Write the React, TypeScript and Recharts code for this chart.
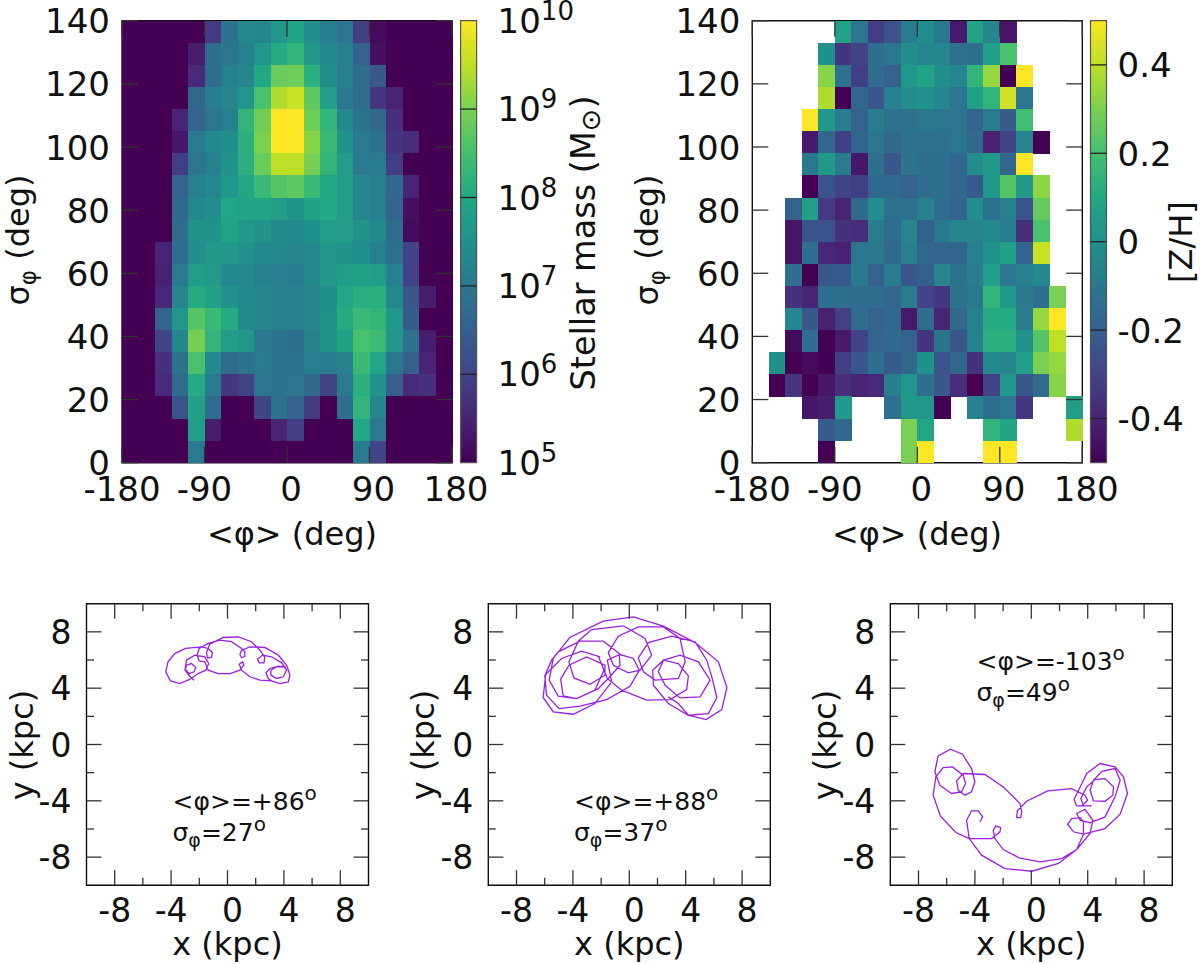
import React from "react";
import { ScatterChart, Scatter, LineChart, Line, BarChart, Bar, XAxis, YAxis, ReferenceArea, ReferenceLine } from "recharts";

// Position of each cell on the colour bar (0 = bottom, 1 = top), top row first.
const massLevels: number[][] = [
  [0,0,0,0,0,.17,.33,.42,.41,.48,.53,.44,.37,.34,.18,.03,0,0,0,0],
  [0,0,0,0,.08,.30,.34,.38,.47,.56,.60,.48,.42,.38,.26,.04,0,0,0,0],
  [0,0,0,0,.12,.30,.38,.40,.55,.72,.78,.58,.44,.38,.30,.22,0,0,0,0],
  [0,0,0,0,.28,.37,.40,.47,.66,.88,.92,.70,.50,.35,.30,.16,.10,0,0,0],
  [0,0,0,.10,.27,.34,.38,.60,.78,1,1,.78,.60,.42,.33,.28,.13,0,0,0],
  [0,0,0,.06,.36,.42,.43,.58,.80,1,1,.82,.62,.46,.36,.32,.15,.13,0,0],
  [0,0,0,.18,.34,.38,.46,.58,.72,.90,.90,.74,.60,.50,.36,.36,.18,0,0,0],
  [0,0,0,.27,.38,.42,.47,.54,.62,.68,.70,.62,.54,.50,.40,.38,.28,.10,0,0],
  [0,0,0,.29,.42,.44,.54,.53,.53,.50,.46,.52,.55,.50,.40,.38,.27,.04,0,0],
  [0,0,0,.30,.46,.46,.53,.48,.46,.42,.42,.45,.50,.50,.46,.42,.30,.03,0,0],
  [0,0,.10,.30,.44,.48,.48,.46,.42,.42,.40,.42,.48,.46,.44,.38,.32,.20,0,0],
  [0,0,.09,.36,.50,.49,.42,.42,.38,.38,.36,.42,.48,.50,.52,.50,.38,.19,0,0],
  [0,0,.11,.40,.56,.52,.46,.42,.40,.39,.38,.40,.44,.54,.58,.58,.42,.22,.08,0],
  [0,0,.27,.47,.68,.62,.56,.42,.40,.38,.38,.40,.46,.56,.62,.60,.48,.24,0,0],
  [0,0,.20,.40,.74,.60,.50,.47,.35,.33,.31,.38,.46,.52,.66,.63,.48,.32,.08,0],
  [0,0,.14,.33,.66,.42,.30,.33,.36,.33,.33,.38,.36,.38,.62,.54,.34,.25,.10,0],
  [0,0,.12,.30,.56,.36,.16,.19,.34,.33,.34,.29,.20,.36,.58,.46,.25,.12,.14,0],
  [0,0,0,.21,.52,.30,0,0,.20,.32,.26,.17,0,.31,.60,.40,0,0,0,0],
  [0,0,0,0,.50,.08,0,0,0,.10,.18,0,0,0,.55,.36,0,0,0,0],
  [0,0,0,0,.36,0,0,0,0,0,0,0,0,0,.36,.20,0,0,0,0],
];

const _ = null;
const metalLevels: (number | null)[][] = [
  [_,_,_,_,_,.55,.36,.18,.22,.38,.45,.37,.07,.55,.42,.05,_,_,_,_],
  [_,_,_,_,.47,.15,.20,.33,.36,.46,.42,.43,.34,.33,.53,.68,_,_,_,_],
  [_,_,_,_,.82,.34,.18,.32,.28,.49,.55,.46,.42,.62,.84,0,1,_,_,_],
  [_,_,_,_,.88,0,.30,.24,.40,.46,.48,.43,.36,.54,.62,.93,.36,_,_,_],
  [_,_,_,1,.50,.38,.28,.38,.34,.34,.37,.36,.36,.29,.38,.26,.66,_,_,_],
  [_,_,_,.07,.30,.18,.29,.36,.31,.34,.34,.34,.36,.31,.09,.20,.42,0,_,_],
  [_,_,_,.37,.50,.38,.06,.33,.24,.35,.33,.33,.30,.45,.50,.30,1,_,_,_],
  [_,_,_,0,.22,.20,.18,.30,.31,.28,.32,.33,.30,.25,.50,.70,.50,.83,_,_],
  [_,_,.28,.53,.17,.10,.31,.45,.34,.34,.40,.32,.29,.46,.34,.40,.22,.73,_,_],
  [_,_,.05,.23,.23,.14,.13,.38,.32,.42,.27,.37,.42,.42,.44,.38,.13,.68,_,_],
  [_,_,.05,.33,.11,.09,.36,.37,.31,.40,.30,.29,.29,.40,.48,.54,.29,.92,_,_],
  [_,_,.33,0,.24,.25,.37,.28,.38,.24,.27,.42,.35,.39,.52,.36,.40,.44,_,_],
  [_,_,.14,.10,.33,.33,.32,.32,.30,.38,.20,.16,.35,.37,.62,.50,.37,.33,.80,_],
  [_,_,.43,.24,.09,.19,.32,.28,.31,.07,.32,.10,.31,.40,.58,.58,.38,.84,1,_],
  [_,_,.03,.32,0,.07,.20,.29,.31,.28,.15,.35,.24,.40,.60,.60,.48,.70,.90,_],
  [_,.47,0,.03,0,.18,.24,.33,.26,.31,.47,.22,.30,.14,.44,.42,.52,.80,.84,_],
  [_,0,.16,0,.06,.13,.10,.12,.39,.49,.33,.24,.13,0,.20,.50,.24,.32,.82,_],
  [_,_,_,.06,.08,.50,_,_,.34,.50,.50,0,_,.40,.33,.36,.16,_,_,.52],
  [_,_,_,_,.26,.31,_,_,_,.80,.56,_,_,_,.62,.55,_,_,_,.88],
  [_,_,_,_,0,_,_,_,_,.80,1,_,_,_,1,1,_,_,_,_],
];

const orbitOne: number[][] = [
  [-2.37,4.57],[-2.68,4.85],[-3.01,5.28],[-2.91,5.63],[-2.56,5.75],[-2.25,5.47],[-2.37,5.16],[-2.72,5.04],[-3.01,5.35],[-2.91,5.99],
  [-2.32,6.34],[-1.61,6.22],[-1.33,5.75],[-1.54,5.28],[-2.08,5.04],[-2.68,4.62],[-3.39,4.33],[-4.05,4.52],[-4.38,5.16],[-4.22,5.87],
  [-3.74,6.46],[-2.98,6.82],[-1.85,6.94],[-1.37,6.82],[-1.07,6.53],[-1.14,6.18],[-1.42,6.16],[-1.49,6.51],[-1.26,7.13],[-0.31,7.60],
  [0.76,7.65],[1.70,7.30],[2.30,6.70],[2.65,6.18],[2.58,5.80],[2.25,5.80],[2.13,6.06],[2.49,6.35],[3.13,6.23],[3.84,5.80],
  [4.19,5.28],[3.96,4.81],[3.48,4.69],[3.08,4.93],[3.08,5.28],[3.48,5.52],[4.14,5.52],[3.60,5.56],[3.01,5.40],[2.73,5.09],
  [2.89,4.69],[3.13,4.52],[3.72,4.33],[4.31,4.45],[4.43,4.93],[4.19,5.63],[3.60,6.35],[2.65,6.89],[1.59,6.94],[1.00,6.70],
  [0.88,6.39],[1.00,6.16],[1.23,6.27],[1.23,6.58],[1.00,6.82],[0.28,7.30],[-0.54,7.41],[-1.37,7.18],[-2.01,6.82],[-2.16,6.34],
  [-2.01,5.94],[-1.61,5.87],[-1.37,5.28],[-0.66,5.04],[0.17,5.04],[0.88,5.28],[1.16,5.63],[1.07,5.87],[0.83,5.70],[1.00,5.28],
  [1.59,4.81],[2.30,4.57],[3.13,4.52],
];

const orbitTwo: number[][] = [
  [2.77,3.38],[3.48,2.91],[4.19,2.08],[5.45,1.77],[6.56,2.48],[6.92,4.05],[6.32,5.87],[4.67,7.24],[2.42,8.40],[0.29,9.06],
  [-1.85,8.76],[-4.22,7.60],[-5.40,6.11],[-5.68,4.57],[-5.04,3.43],[-3.74,3.26],[-2.44,3.86],[-1.80,5.28],[-2.20,6.29],[-1.56,4.69],
  [-1.13,4.33],[-0.54,3.86],[1.23,3.15],[2.89,3.19],[4.07,3.90],[4.19,4.87],[3.48,5.75],[2.42,5.99],[2.06,5.16],[2.54,4.21],
  [3.60,3.31],[5.02,3.38],[5.73,4.57],[4.90,5.87],[3.60,6.34],[2.42,5.99],[1.66,5.28],[1.71,4.21],[2.77,2.91],[4.19,2.08],
  [5.61,2.20],[6.21,3.34],[5.85,4.80],[5.49,5.99],[4.67,7.29],[3.01,7.69],[1.35,7.24],[0.64,6.15],[1.00,5.16],[1.83,4.57],
  [3.48,4.69],[3.96,5.87],[3.60,7.53],[2.42,8.35],[0.64,8.35],[-0.78,7.69],[-1.49,6.53],[-1.13,5.63],[-0.07,5.09],[0.76,5.28],
  [1.59,6.34],[1.12,7.53],[-0.42,8.43],[-2.67,8.16],[-3.62,7.34],[-4.28,5.87],[-3.93,4.73],[-2.79,4.28],[-1.73,4.92],[-1.73,5.63],
  [-3.03,6.22],[-4.28,5.63],[-4.87,4.64],[-4.69,3.45],[-3.74,3.26],[-2.20,3.97],[-1.49,4.69],[-0.66,5.63],[-0.71,6.46],[-1.84,7.34],
  [-3.50,7.34],[-5.04,6.58],[-5.51,5.99],[-5.92,5.04],[-6.11,3.34],[-5.39,2.32],[-3.97,2.15],[-2.44,2.91],[-1.25,4.45],[-1.56,5.99],
  [-0.66,6.39],[0.29,6.11],[0.71,5.28],[0.05,4.14],[-1.61,3.19],[-3.50,2.72],[-4.97,2.55],[-5.87,3.50],[-5.99,4.92],[-4.80,6.11],
  [-3.38,6.63],[-2.08,6.22],
];

const orbitThree: number[][] = [
  [-3.64,-5.49],[-3.45,-5.14],[-3.76,-4.71],[-4.24,-4.71],[-4.59,-5.38],[-4.40,-6.68],[-3.53,-7.86],[-1.87,-8.81],[0.03,-9.00],[1.92,-8.45],
  [3.22,-7.46],[4.17,-6.32],[4.36,-5.38],[3.81,-4.60],[3.22,-4.90],[3.46,-5.38],[4.17,-5.57],[5.23,-5.14],[5.94,-3.72],[6.30,-2.54],
  [5.94,-1.71],[5.00,-1.90],[4.41,-2.54],[4.17,-3.25],[4.41,-4.00],[5.23,-4.03],[5.78,-3.60],[5.83,-3.01],[5.23,-2.42],[4.52,-2.49],
  [3.93,-3.01],[3.51,-3.84],[3.70,-4.36],[3.22,-4.36],[3.03,-3.91],[3.70,-2.54],[3.93,-2.06],[4.88,-1.35],[5.94,-1.59],[6.54,-2.30],
  [6.82,-3.48],[6.30,-4.95],[5.23,-5.97],[3.70,-6.37],[2.99,-6.20],[2.58,-5.66],[2.87,-5.26],[3.46,-5.19],[3.70,-5.49],[3.70,-6.37],
  [3.22,-7.46],[2.16,-8.10],[0.62,-8.34],[-0.87,-8.05],[-1.99,-7.46],[-2.58,-6.68],[-2.70,-6.09],[-2.51,-5.78],[-2.18,-5.90],[-2.22,-6.20],
  [-2.82,-6.68],[-4.40,-6.68],[-5.35,-6.25],[-6.44,-5.09],[-6.96,-3.60],[-6.77,-2.30],[-6.25,-1.64],[-5.59,-1.59],[-4.83,-2.18],[-4.66,-2.77],
  [-4.95,-3.36],[-5.66,-3.48],[-6.49,-2.89],[-6.84,-1.94],[-6.61,-0.81],[-5.73,-0.33],[-4.88,-0.69],[-4.24,-1.71],[-4.00,-2.65],[-4.24,-3.36],
  [-4.71,-3.60],[-5.18,-3.25],[-5.30,-2.58],[-4.83,-2.06],[-3.29,-2.13],[-1.99,-3.01],[-0.80,-4.19],[-0.68,-4.78],[-0.75,-5.19],[-1.04,-5.19],
  [-0.99,-4.71],[-0.33,-4.03],[1.16,-3.29],[2.87,-3.13],[3.81,-3.60],[4.00,-3.96],[3.58,-4.36],[4.29,-4.36],
];

const phiTicks = [-180, -90, 0, 90, 180];
const sigmaTicks = [0, 20, 40, 60, 80, 100, 120, 140];
const kpcTicks = [-8, -6, -4, -2, 0, 2, 4, 6, 8];
const kpcLabels = [-8, -4, 0, 4, 8];
const massBarTicks = [5, 6, 7, 8, 9, 10];
const metalBarTicks = [-0.4, -0.2, 0, 0.2, 0.4];

const PHI_BIN = 18;
const SIGMA_BIN = 7;
const FONT = "'DejaVu Sans'";
const FS = 32;
const TICK_FS = 34;
const INK = "#111";
const TICK = "#333";
const ORBIT = "#9b1fe0";
const AXIS_THICK = 1; // the library skips an axis of zero thickness

const viridisStops = ["#440154","#482475","#414487","#355f8d","#2a788e","#21918c","#22a884","#44bf70","#7ad151","#bddf26","#fde725"];
function viridis(t: number) {
  const v = Math.max(0, Math.min(1, t)) * 10;
  const i = Math.min(9, Math.floor(v));
  const f = v - i;
  const p = (s: string) => [1, 3, 5].map((k) => parseInt(s.slice(k, k + 2), 16));
  const a = p(viridisStops[i]), b = p(viridisStops[i + 1]);
  return `rgb(${a.map((c, k) => Math.round(c + (b[k] - c) * f)).join(",")})`;
}

const toCells = (rows: (number | null)[][], mid: number) =>
  rows.flatMap((row, r) =>
    row.flatMap((level, c) =>
      level === null
        ? []
        : [{
            phi: -180 + PHI_BIN * (c + 0.5),
            sigma: 140 - SIGMA_BIN * (r + 0.5),
            level: level > 0.2 && level < 0.75 ? level + mid : level,
          }]
    )
  );

const T = (p: any) => <text fontFamily={FONT} fill={INK} fontSize={FS} {...p} />;

type Rect = { left: number; right: number; top: number; bottom: number };
type Region = { x: number; y: number; w: number; h: number };

const marginOf = (f: Rect, r: Region, t = AXIS_THICK) => ({
  left: f.left - r.x - t,
  right: r.x + r.w - f.right - t,
  top: f.top - r.y - t,
  bottom: r.y + r.h - f.bottom - t,
});

const boxStyle = (r: Region): React.CSSProperties => ({ position: "absolute", left: r.x, top: r.y, width: r.w, height: r.h });

const Ln = (p: any) => <line stroke={TICK} strokeWidth={1.3} {...p} />;

const bottomTick = (isMajor: (v: number) => boolean, labelY: number, shift: number, fs: number, major = 15, minor = 7.5) =>
  ({ x, y, payload }: any) => {
    const v = payload.value;
    const m = isMajor(v);
    return (
      <g>
        <Ln x1={x} x2={x} y1={y} y2={y - (m ? major : minor)} />
        {m && (
          <T x={x + (v >= 0 ? shift : 0)} y={y + labelY} textAnchor="middle" fontSize={fs}>{String(v)}</T>
        )}
      </g>
    );
  };
const topTick = (isMajor: (v: number) => boolean, major = 15, minor = 7.5) => ({ x, y, payload }: any) => (
  <Ln x1={x} x2={x} y1={y} y2={y + (isMajor(payload.value) ? major : minor)} />
);
const leftTick = (isMajor: (v: number) => boolean, gap: number, fs: number, major = 15, minor = 7.5) =>
  ({ x, y, payload }: any) => {
    const v = payload.value;
    const m = isMajor(v);
    return (
      <g>
        <Ln x1={x} x2={x + (m ? major : minor)} y1={y} y2={y} />
        {m && (
          <T x={x - gap} y={y + fs * 0.37} textAnchor="end" fontSize={fs}>{String(v)}</T>
        )}
      </g>
    );
  };
const rightTick = (isMajor: (v: number) => boolean, major = 15, minor = 7.5) => ({ x, y, payload }: any) => (
  <Ln x1={x} x2={x - (isMajor(payload.value) ? major : minor)} y1={y} y2={y} />
);
const always = () => true;
const axisBase = { interval: 0 as const, axisLine: false, tickLine: false, tickSize: 0, tickMargin: 0, type: "number" as const };
const noMark = () => <g />;

function Heatmap({ rows, mid, frame, region, labelCx, sigmaLabelX, sigmaLabelCy }: any) {
  const cellW = (frame.right - frame.left) / (360 / PHI_BIN);
  const cellH = (frame.bottom - frame.top) / (140 / SIGMA_BIN);
  const Cell = ({ cx, cy, payload }: any) => (
    <rect x={cx - cellW / 2} y={cy - cellH / 2} width={cellW + 0.6} height={cellH + 0.6} fill={viridis(payload.level)} shapeRendering="crispEdges" />
  );
  const cells = toCells(rows, mid);
  return (
    <div style={boxStyle(region)}>
      <ScatterChart width={region.w} height={region.h} margin={marginOf(frame, region)}>
        <XAxis {...axisBase} xAxisId="b" orientation="bottom" dataKey="phi" domain={[-180, 180]} ticks={phiTicks} height={AXIS_THICK} tick={bottomTick(always, 38.5, 4, TICK_FS, 16)} />
        <XAxis {...axisBase} xAxisId="t" orientation="top" dataKey="phi" domain={[-180, 180]} ticks={phiTicks} height={AXIS_THICK} tick={topTick(always, 16)} />
        <YAxis {...axisBase} yAxisId="l" orientation="left" dataKey="sigma" domain={[0, 140]} ticks={sigmaTicks} width={AXIS_THICK} tick={leftTick(always, 12, TICK_FS, 16)} />
        <YAxis {...axisBase} yAxisId="r" orientation="right" dataKey="sigma" domain={[0, 140]} ticks={sigmaTicks} width={AXIS_THICK} tick={rightTick(always, 16)} />
        <Scatter xAxisId="t" yAxisId="r" data={cells} shape={noMark} isAnimationActive={false} />
        <Scatter xAxisId="b" yAxisId="l" data={cells} shape={Cell} isAnimationActive={false} />
        <ReferenceArea xAxisId="b" yAxisId="l" x1={-180} x2={180} y1={0} y2={140} fill="none" stroke={INK} strokeWidth={1.4} />
        <g transform={`translate(${-region.x},${-region.y})`}>
          <T x={labelCx} y={545} textAnchor="middle">{"<φ> (deg)"}</T>
          <T x={sigmaLabelX} y={sigmaLabelCy} textAnchor="middle" transform={`rotate(-90 ${sigmaLabelX} ${sigmaLabelCy})`}>
            σ<tspan dy={7} fontSize={23}>φ</tspan><tspan dy={-7}> (deg)</tspan>
          </T>
        </g>
      </ScatterChart>
    </div>
  );
}

function ColourBar({ id, frame, region, domain, ticks, renderLabel, children }: any) {
  const tick = ({ x, y, payload }: any) => <g>{renderLabel(payload.value, x, y)}</g>;
  const m = marginOf(frame, region);
  return (
    <div style={boxStyle(region)}>
      <BarChart
        width={region.w}
        height={region.h}
        margin={{ ...m, left: m.left + AXIS_THICK, top: m.top + AXIS_THICK, bottom: m.bottom + AXIS_THICK }}
        data={[{ name: "key", range: domain }]}
        barCategoryGap={0}
      >
        <defs>
          <linearGradient id={id} x1="0" y1="1" x2="0" y2="0">
            {viridisStops.map((c, i) => <stop key={c} offset={i / 10} stopColor={c} />)}
          </linearGradient>
        </defs>
        <XAxis dataKey="name" hide />
        <YAxis {...axisBase} orientation="right" domain={domain} ticks={ticks} width={AXIS_THICK} tick={tick} />
        <Bar dataKey="range" fill={`url(#${id})`} stroke="#555" strokeWidth={1.2} isAnimationActive={false} />
        {ticks
          .filter((v: number) => v > domain[0] && v < domain[1])
          .map((v: number) => (
            <ReferenceLine key={v} y={v} stroke="#222" strokeWidth={1.3} />
          ))}
        <g transform={`translate(${-region.x},${-region.y})`}>{children}</g>
      </BarChart>
    </div>
  );
}

function OrbitPanel({ orbit, frame, region, lines, textX, textY }: any) {
  const data = orbit.map(([x, y]: number[]) => ({ x, y }));
  const isMajor = (v: number) => kpcLabels.includes(v);
  const cx = (frame.left + frame.right) / 2;
  const labelX = frame.left - 54;
  return (
    <div style={boxStyle(region)}>
      <LineChart width={region.w} height={region.h} margin={marginOf(frame, region)} data={data}>
        <XAxis {...axisBase} xAxisId="b" orientation="bottom" dataKey="x" domain={[-10, 10]} ticks={kpcTicks} height={AXIS_THICK} tick={bottomTick(isMajor, 37, 5, 33)} />
        <XAxis {...axisBase} xAxisId="t" orientation="top" dataKey="x" domain={[-10, 10]} ticks={kpcTicks} height={AXIS_THICK} tick={topTick(isMajor)} />
        <YAxis {...axisBase} yAxisId="l" orientation="left" dataKey="y" domain={[-10, 10]} ticks={kpcTicks} width={AXIS_THICK} tick={leftTick(isMajor, 15, 33)} />
        <YAxis {...axisBase} yAxisId="r" orientation="right" dataKey="y" domain={[-10, 10]} ticks={kpcTicks} width={AXIS_THICK} tick={rightTick(isMajor)} />
        <ReferenceArea xAxisId="b" yAxisId="l" x1={-10} x2={10} y1={-10} y2={10} fill="none" stroke={INK} strokeWidth={1.4} />
        <Line xAxisId="t" yAxisId="r" type="linear" dataKey="y" stroke="none" dot={false} isAnimationActive={false} />
        <Line xAxisId="b" yAxisId="l" type="linear" dataKey="y" stroke={ORBIT} strokeWidth={1.3} dot={false} isAnimationActive={false} />
        <g transform={`translate(${-region.x},${-region.y})`}>
          <T x={cx} y={955} textAnchor="middle">x (kpc)</T>
          <T x={labelX} y={745} textAnchor="middle" transform={`rotate(-90 ${labelX} 745)`}>y (kpc)</T>
          <T x={textX} y={textY} fontSize={25}>
            {"<φ>=" + lines[0]}
            <tspan dy={-10} fontSize={20}>o</tspan>
          </T>
          <T x={textX} y={textY + 31} fontSize={25}>
            σ
            <tspan dy={6} fontSize={19}>φ</tspan>
            <tspan dy={-6}>={lines[1]}</tspan>
            <tspan dy={-10} fontSize={20}>o</tspan>
          </T>
        </g>
      </LineChart>
    </div>
  );
}

const topFrameY = { top: 20.7, bottom: 462.7 };
const botFrameY = { top: 603.7, bottom: 885.3 };

export default function App() {
  return (
    <div style={{ position: "absolute", left: 0, top: 0, width: 1200, height: 964, background: "#fff", overflow: "hidden" }}>
      <style>{"svg{overflow:visible}"}</style>
      <Heatmap rows={massLevels} mid={0.05} frame={{ left: 122, right: 452, ...topFrameY }} region={{ x: 0, y: 0, w: 456, h: 560 }} labelCx={292} sigmaLabelX={29} sigmaLabelCy={240} />
      <ColourBar
        id="barMass"
        frame={{ left: 460.6, right: 476.6, ...topFrameY }}
        region={{ x: 456, y: 0, w: 170, h: 560 }}
        domain={[5, 10]}
        ticks={massBarTicks}
        renderLabel={(v: number, x: number, y: number) => (
          <T x={x + 21} y={y + 12} fontSize={TICK_FS}>
            10<tspan dy={-13} fontSize={26}>{v}</tspan>
          </T>
        )}
      >
        <T x={595} y={243} textAnchor="middle" fontSize={33.5} transform="rotate(-90 595 243)">
          Stellar mass (M
          <tspan dy={5} fontSize={27}>⊙</tspan>
          <tspan dy={-5}>)</tspan>
        </T>
      </ColourBar>
      <Heatmap rows={metalLevels} mid={0.03} frame={{ left: 752.3, right: 1082.3, ...topFrameY }} region={{ x: 626, y: 0, w: 460, h: 560 }} labelCx={917} sigmaLabelX={658} sigmaLabelCy={240} />
      <ColourBar
        id="barMetal"
        frame={{ left: 1090.5, right: 1106.5, ...topFrameY }}
        region={{ x: 1086, y: 0, w: 114, h: 560 }}
        domain={[-0.5, 0.5]}
        ticks={metalBarTicks}
        renderLabel={(v: number, x: number, y: number) => (
          <T x={x + 11} y={y + 12.5} fontSize={TICK_FS}>{String(v)}</T>
        )}
      >
        <T x={1192} y={242} textAnchor="middle" transform="rotate(-90 1192 242)">[Z/H]</T>
      </ColourBar>
      <OrbitPanel orbit={orbitOne} frame={{ left: 86.5, right: 368.5, ...botFrameY }} region={{ x: 0, y: 590, w: 412, h: 374 }} lines={["+86", "27"]} textX={172.5} textY={810} />
      <OrbitPanel orbit={orbitTwo} frame={{ left: 488.3, right: 770.3, ...botFrameY }} region={{ x: 412, y: 590, w: 403, h: 374 }} lines={["+88", "37"]} textX={574} textY={810} />
      <OrbitPanel orbit={orbitThree} frame={{ left: 890.3, right: 1172.3, ...botFrameY }} region={{ x: 815, y: 590, w: 385, h: 374 }} lines={["-103", "49"]} textX={976.5} textY={670} />
    </div>
  );
}
